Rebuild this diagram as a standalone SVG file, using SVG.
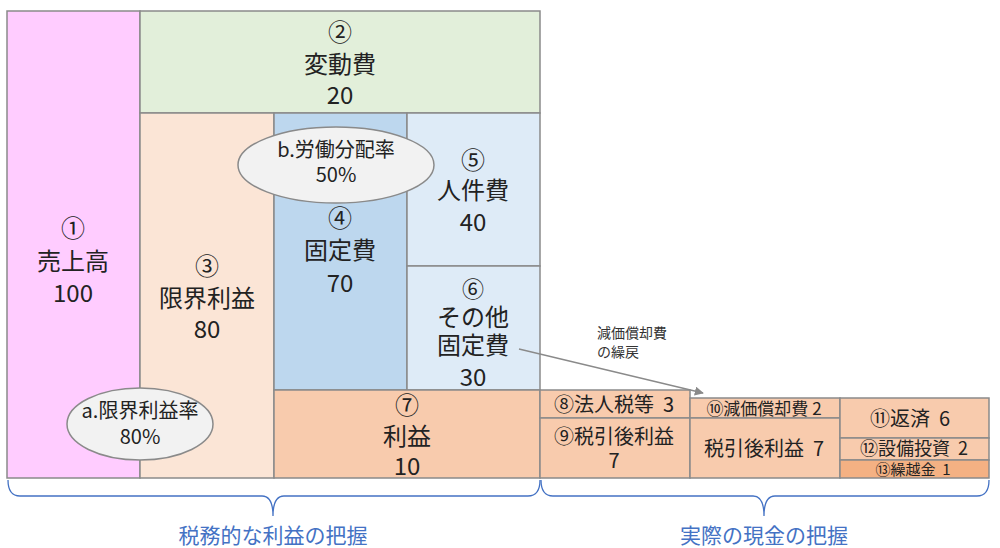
<svg xmlns="http://www.w3.org/2000/svg" width="1000" height="548" viewBox="0 0 1000 548">
<defs>
<style>
.b{stroke:#8a8a8a;stroke-width:1.5}
.t{font-family:"Noto Sans CJK JP","Noto Sans",sans-serif;fill:#222;text-anchor:middle}
.L{font-size:24px}
.L6{font-size:22px}
.m{font-size:20px}
.m2{font-size:18px}
.s{font-size:17px}
.s2{font-size:15px}
.x{font-size:14px;text-anchor:start;fill:#333}
.blue{fill:#4472c4;font-size:21px}
.br{fill:none;stroke:#4472c4;stroke-width:1.3}
</style>
<marker id="ah" viewBox="0 0 10 10" refX="9" refY="5" markerWidth="7" markerHeight="7" orient="auto">
<path d="M0,0 L10,5 L0,10 z" fill="#8a8a8a"/>
</marker>
</defs>
<rect width="1000" height="548" fill="#fff"/>

<g id="n1"><rect class="b" x="7" y="11" width="133" height="467" fill="#ffccff"/>
<text class="t L" x="73" y="237">①</text><text class="t L" x="73" y="270">売上高</text><text class="t L" x="73" y="302">100</text></g>

<g id="n2"><rect class="b" x="140" y="11" width="400" height="102" fill="#e2efda"/>
<text class="t L" x="340" y="41">②</text><text class="t L" x="340" y="73">変動費</text><text class="t L" x="340" y="104">20</text></g>

<g id="n3"><rect class="b" x="140" y="113" width="134" height="365" fill="#fbe5d6"/>
<text class="t L" x="207" y="275">③</text><text class="t L" x="207" y="307">限界利益</text><text class="t L" x="207" y="338">80</text></g>

<g id="n4"><rect class="b" x="274" y="113" width="133" height="277" fill="#bdd7ee"/>
<text class="t L" x="340" y="227">④</text><text class="t L" x="340" y="259">固定費</text><text class="t L" x="340" y="292">70</text></g>

<g id="n5"><rect class="b" x="407" y="113" width="133" height="153" fill="#deebf7"/>
<text class="t L" x="473" y="169">⑤</text><text class="t L" x="473" y="199">人件費</text><text class="t L" x="473" y="231">40</text></g>

<g id="n6"><rect class="b" x="407" y="266" width="133" height="124" fill="#deebf7"/>
<text class="t L6" x="473" y="297">⑥</text><text class="t L" x="473" y="326">その他</text><text class="t L" x="473" y="354">固定費</text><text class="t L" x="473" y="386">30</text></g>

<g id="n7"><rect class="b" x="274" y="390" width="266" height="88" fill="#f8cbad"/>
<text class="t L" x="407" y="414">⑦</text><text class="t L" x="407" y="445">利益</text><text class="t L" x="407" y="475">10</text></g>

<g id="n8"><rect class="b" x="540" y="390" width="150" height="28" fill="#f8cbad"/>
<text class="t m" x="614" y="412" xml:space="preserve">⑧法人税等  3</text></g>

<g id="n9"><rect class="b" x="540" y="418" width="150" height="60" fill="#f8cbad"/>
<text class="t m" x="614" y="444">⑨税引後利益</text><text class="t m" x="614" y="468">7</text></g>

<g id="n10"><rect class="b" x="690" y="398" width="150" height="20" fill="#f8cbad"/>
<text class="t s" x="764" y="415">⑩減価償却費 2</text></g>

<g id="n10b"><rect class="b" x="690" y="418" width="150" height="60" fill="#f8cbad"/>
<text class="t m" x="764" y="456" xml:space="preserve">税引後利益  7</text></g>

<g id="n11"><rect class="b" x="840" y="398" width="149" height="40" fill="#f8cbad"/>
<text class="t m" x="910" y="426" xml:space="preserve">⑪返済  6</text></g>

<g id="n12"><rect class="b" x="840" y="438" width="149" height="22" fill="#f8cbad"/>
<text class="t m2" x="914" y="455" xml:space="preserve">⑫設備投資  2</text></g>

<g id="n13"><rect class="b" x="840" y="460" width="149" height="18" fill="#f4b183"/>
<text class="t s2" x="913" y="475" xml:space="preserve">⑬繰越金  1</text></g>

<g id="ea"><ellipse class="b" cx="140" cy="424" rx="73" ry="36" fill="#f2f2f2"/>
<text class="t m" x="140" y="418">a.限界利益率</text><text class="t m" x="140" y="444">80%</text></g>

<g id="eb"><ellipse class="b" cx="336" cy="165" rx="98" ry="38" fill="#f2f2f2"/>
<text class="t m" x="336" y="157">b.労働分配率</text><text class="t m" x="336" y="182">50%</text></g>

<g id="connectors">
<line x1="519" y1="349" x2="703" y2="393" stroke="#8a8a8a" stroke-width="1.3" marker-end="url(#ah)"/>
<text class="t x" x="597" y="338">減価償却費</text><text class="t x" x="597" y="357">の繰戻</text>
<path class="br" d="M8,480 Q8,496 20,496 L262,496 Q273,496 273,516 Q273,496 284,496 L528,496 Q540,496 540,480"/>
<path class="br" d="M541,480 Q541,496 553,496 L753,496 Q764,496 764,516 Q764,496 775,496 L977,496 Q989,496 989,480"/>
</g>
<text class="t blue" x="273" y="543">税務的な利益の把握</text>
<text class="t blue" x="764" y="543">実際の現金の把握</text>
</svg>
